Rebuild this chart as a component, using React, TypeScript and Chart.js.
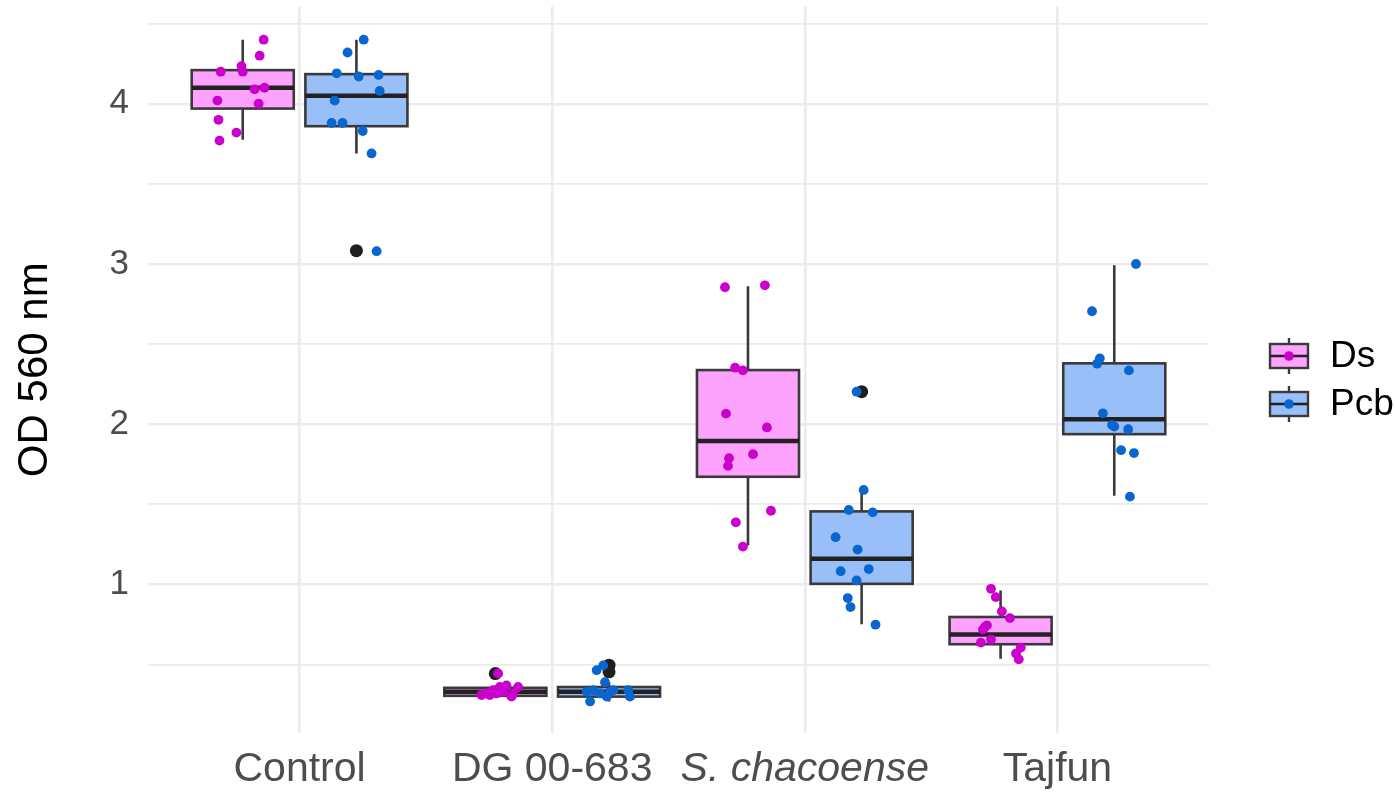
import React, { useEffect, useRef } from 'react';
import { Chart, registerables } from 'chart.js';

Chart.register(...registerables);

// ---------- data ----------
const categories = ['Control', 'DG 00-683', 'S. chacoense', 'Tajfun'];
const seriesNames = ['Ds', 'Pcb'];
const yGridValues = [0.5, 1, 1.5, 2, 2.5, 3, 3.5, 4, 4.5];
const yTickLabels = ['1', '2', '3', '4'];

// Ds observations (per category) and their horizontal jitter (category units)
const dsValues = [
  [4.40, 4.30, 4.20, 4.235, 4.20, 4.09, 4.10, 4.02, 4.00, 3.90, 3.82, 3.77],
  [0.444, 0.32, 0.36, 0.32, 0.36, 0.34, 0.37, 0.30, 0.31, 0.33, 0.32, 0.31],
  [2.855, 2.867, 2.353, 2.336, 2.066, 1.98, 1.813, 1.788, 1.74, 1.46, 1.388, 1.236],
  [0.973, 0.921, 0.832, 0.79, 0.745, 0.735, 0.718, 0.637, 0.656, 0.606, 0.569, 0.533],
];
const dsJitter = [
  [0.083, 0.067, -0.087, -0.005, 0.0, 0.047, 0.086, -0.1, 0.063, -0.096, -0.025, -0.092],
  [0.011, -0.035, 0.018, 0.07, 0.09, -0.009, 0.044, 0.064, -0.055, 0.031, 0.005, -0.022],
  [-0.091, 0.067, -0.051, -0.02, -0.087, 0.075, 0.02, -0.075, -0.079, 0.091, -0.048, -0.02],
  [-0.038, -0.019, 0.005, 0.037, -0.054, -0.062, -0.07, -0.078, -0.038, 0.08, 0.061, 0.072],
];
const pcbValues = [
  [4.40, 4.32, 4.19, 4.17, 4.18, 4.08, 4.02, 3.88, 3.88, 3.83, 3.69, 3.08],
  [0.465, 0.495, 0.39, 0.33, 0.27, 0.30, 0.34, 0.34, 0.30, 0.32, 0.34, 0.33],
  [2.203, 1.59, 1.465, 1.45, 1.295, 1.218, 1.083, 1.096, 1.025, 0.915, 0.859, 0.749],
  [3.0, 2.705, 2.411, 2.378, 2.336, 2.068, 1.996, 1.985, 1.969, 1.838, 1.82, 1.548],
];
const pcbJitter = [
  [0.029, -0.035, -0.078, 0.009, 0.088, 0.092, -0.086, -0.098, -0.055, 0.025, 0.06, 0.08],
  [-0.049, -0.023, -0.016, -0.088, -0.075, -0.009, 0.017, 0.076, 0.083, -0.036, -0.062, 0.004],
  [-0.02, 0.008, -0.051, 0.044, -0.103, -0.016, -0.083, 0.028, -0.02, -0.055, -0.044, 0.055],
  [0.086, -0.088, -0.057, -0.068, 0.058, -0.045, -0.009, 0.0, 0.055, 0.027, 0.078, 0.062],
];

// box statistics
const dsQ1 = [3.97, 0.305, 1.672, 0.627];
const dsMedian = [4.10, 0.33, 1.896, 0.687];
const dsQ3 = [4.21, 0.355, 2.338, 0.797];
const dsWhiskerLow = [3.776, 0.30, 1.243, 0.537];
const dsWhiskerHigh = [4.40, 0.37, 2.861, 0.963];
const dsOutliers = [[], [0.444], [], []];

const pcbQ1 = [3.86, 0.30, 1.004, 1.938];
const pcbMedian = [4.05, 0.33, 1.16, 2.031];
const pcbQ3 = [4.185, 0.36, 1.456, 2.38];
const pcbWhiskerLow = [3.69, 0.27, 0.751, 1.554];
const pcbWhiskerHigh = [4.40, 0.39, 1.585, 2.992];
const pcbOutliers = [[3.083], [0.496, 0.455], [2.203], []];

// ---------- styling ----------
const FONT = '"Liberation Sans", Arial, Helvetica, sans-serif';
const DODGE = [-0.225, 0.225];
const BOX_WIDTH = 0.404;
const pointColors = ['#CC00CC', '#0A66CF'];
const fillColors = ['#FDA2FD', '#98BFF7'];
const outlineColor = '#3a3a3a';

const series = [
  { name: seriesNames[0], values: dsValues, jitter: dsJitter, q1: dsQ1, med: dsMedian, q3: dsQ3, lo: dsWhiskerLow, hi: dsWhiskerHigh, out: dsOutliers },
  { name: seriesNames[1], values: pcbValues, jitter: pcbJitter, q1: pcbQ1, med: pcbMedian, q3: pcbQ3, lo: pcbWhiskerLow, hi: pcbWhiskerHigh, out: pcbOutliers },
];

const boxPlugin = {
  id: 'boxes',
  beforeDatasetsDraw(chart: any) {
    const { ctx } = chart;
    const x = chart.scales.x;
    const y = chart.scales.y;
    const half = (x.getPixelForValue(BOX_WIDTH) - x.getPixelForValue(0)) / 2;
    ctx.save();
    series.forEach((s, si) => {
      categories.forEach((_c, ci) => {
        const cx = x.getPixelForValue(ci + DODGE[si]);
        const yq1 = y.getPixelForValue(s.q1[ci]);
        const yq3 = y.getPixelForValue(s.q3[ci]);
        const ymed = y.getPixelForValue(s.med[ci]);
        const ylo = y.getPixelForValue(s.lo[ci]);
        const yhi = y.getPixelForValue(s.hi[ci]);
        ctx.strokeStyle = outlineColor;
        ctx.lineWidth = 2.6;
        ctx.beginPath();
        ctx.moveTo(cx, ylo);
        ctx.lineTo(cx, yq1);
        ctx.moveTo(cx, yq3);
        ctx.lineTo(cx, yhi);
        ctx.stroke();
        ctx.fillStyle = fillColors[si];
        ctx.fillRect(cx - half, yq3, half * 2, yq1 - yq3);
        ctx.strokeRect(cx - half, yq3, half * 2, yq1 - yq3);
        ctx.strokeStyle = '#222222';
        ctx.lineWidth = 4.5;
        ctx.beginPath();
        ctx.moveTo(cx - half, ymed);
        ctx.lineTo(cx + half, ymed);
        ctx.stroke();
      });
    });
    ctx.restore();
  },
};

const legendPlugin = {
  id: 'boxLegend',
  afterDraw(chart: any) {
    const { ctx } = chart;
    ctx.save();
    const centers = [356, 404];
    series.forEach((s, si) => {
      const cy = centers[si];
      const x0 = 1270;
      const w = 38;
      const cx = x0 + w / 2;
      ctx.strokeStyle = outlineColor;
      ctx.lineWidth = 2.4;
      ctx.beginPath();
      ctx.moveTo(cx, cy - 18);
      ctx.lineTo(cx, cy + 18);
      ctx.stroke();
      ctx.fillStyle = fillColors[si];
      ctx.fillRect(x0, cy - 12, w, 24);
      ctx.strokeRect(x0, cy - 12, w, 24);
      ctx.lineWidth = 2.6;
      ctx.strokeStyle = '#222222';
      ctx.beginPath();
      ctx.moveTo(x0, cy);
      ctx.lineTo(x0 + w, cy);
      ctx.stroke();
      ctx.fillStyle = pointColors[si];
      ctx.beginPath();
      ctx.arc(cx, cy, 4.8, 0, Math.PI * 2);
      ctx.fill();
      ctx.fillStyle = '#000000';
      ctx.font = `37px ${FONT}`;
      ctx.textAlign = 'left';
      ctx.textBaseline = 'middle';
      ctx.fillText(s.name, 1330, cy + 1);
    });
    ctx.restore();
  },
};

export default function App() {
  const canvasRef = useRef<HTMLCanvasElement | null>(null);

  useEffect(() => {
    if (!canvasRef.current) return;

    const pointSets = series.map((s, si) => ({
      type: 'scatter' as const,
      label: s.name,
      data: s.values.flatMap((vals, ci) =>
        vals.map((v, k) => ({ x: ci + DODGE[si] + s.jitter[ci][k], y: v }))
      ),
      backgroundColor: pointColors[si],
      borderWidth: 0,
      pointRadius: 4.9,
      pointHoverRadius: 4.9,
    }));

    const outlierSet = {
      type: 'scatter' as const,
      label: 'outliers',
      data: series.flatMap((s, si) =>
        s.out.flatMap((vals, ci) => vals.map((v) => ({ x: ci + DODGE[si], y: v })))
      ),
      backgroundColor: '#1f1f1f',
      borderWidth: 0,
      pointRadius: 6.5,
      pointHoverRadius: 6.5,
    };

    const chart = new Chart(canvasRef.current, {
      type: 'scatter',
      data: { datasets: [...pointSets, outlierSet] },
      plugins: [boxPlugin, legendPlugin],
      options: {
        animation: false,
        responsive: true,
        maintainAspectRatio: false,
        layout: { padding: { top: 0, right: 186, bottom: 0, left: 0 } },
        plugins: { legend: { display: false }, tooltip: { enabled: false } },
        scales: {
          x: {
            type: 'linear',
            min: -0.6,
            max: 3.6,
            afterBuildTicks: (scale: any) => {
              scale.ticks = categories.map((_c, i) => ({ value: i }));
            },
            afterFit: (scale: any) => {
              scale.height = 62;
              scale.paddingLeft = 0;
              scale.paddingRight = 0;
            },
            border: { display: false },
            grid: { color: '#EBEBEB', lineWidth: 2.6, drawTicks: false },
            ticks: {
              padding: 12,
              color: '#4D4D4D',
              maxRotation: 0,
              autoSkip: false,
              font: (ctx: any) => ({ family: FONT, size: 41, style: ctx.index === 2 ? 'italic' : 'normal' }),
              callback: (value: any) => categories[Math.round(Number(value))] ?? '',
            },
          },
          y: {
            type: 'linear',
            min: 0.073,
            max: 4.607,
            afterBuildTicks: (scale: any) => {
              scale.ticks = yGridValues.map((v) => ({ value: v }));
            },
            afterFit: (scale: any) => {
              scale.width = 148;
              scale.paddingTop = 0;
              scale.paddingBottom = 0;
            },
            border: { display: false },
            grid: {
              color: '#EBEBEB',
              drawTicks: false,
              lineWidth: (ctx: any) => (ctx.tick && Number.isInteger(ctx.tick.value) ? 2.4 : 1.8),
            },
            ticks: {
              padding: 19,
              color: '#4D4D4D',
              font: { family: FONT, size: 35 },
              callback: (value: any) => {
                const label = String(value);
                return yTickLabels.includes(label) ? label : '';
              },
            },
            title: {
              display: true,
              text: 'OD 560 nm',
              color: '#000000',
              font: { family: FONT, size: 42 },
              padding: { top: 10, bottom: 0 },
            },
          },
        },
      },
    });

    return () => chart.destroy();
  }, []);

  return (
    <div style={{ position: 'absolute', left: 0, top: 0, width: 1395, height: 795, background: '#ffffff' }}>
      <canvas ref={canvasRef} />
    </div>
  );
}
